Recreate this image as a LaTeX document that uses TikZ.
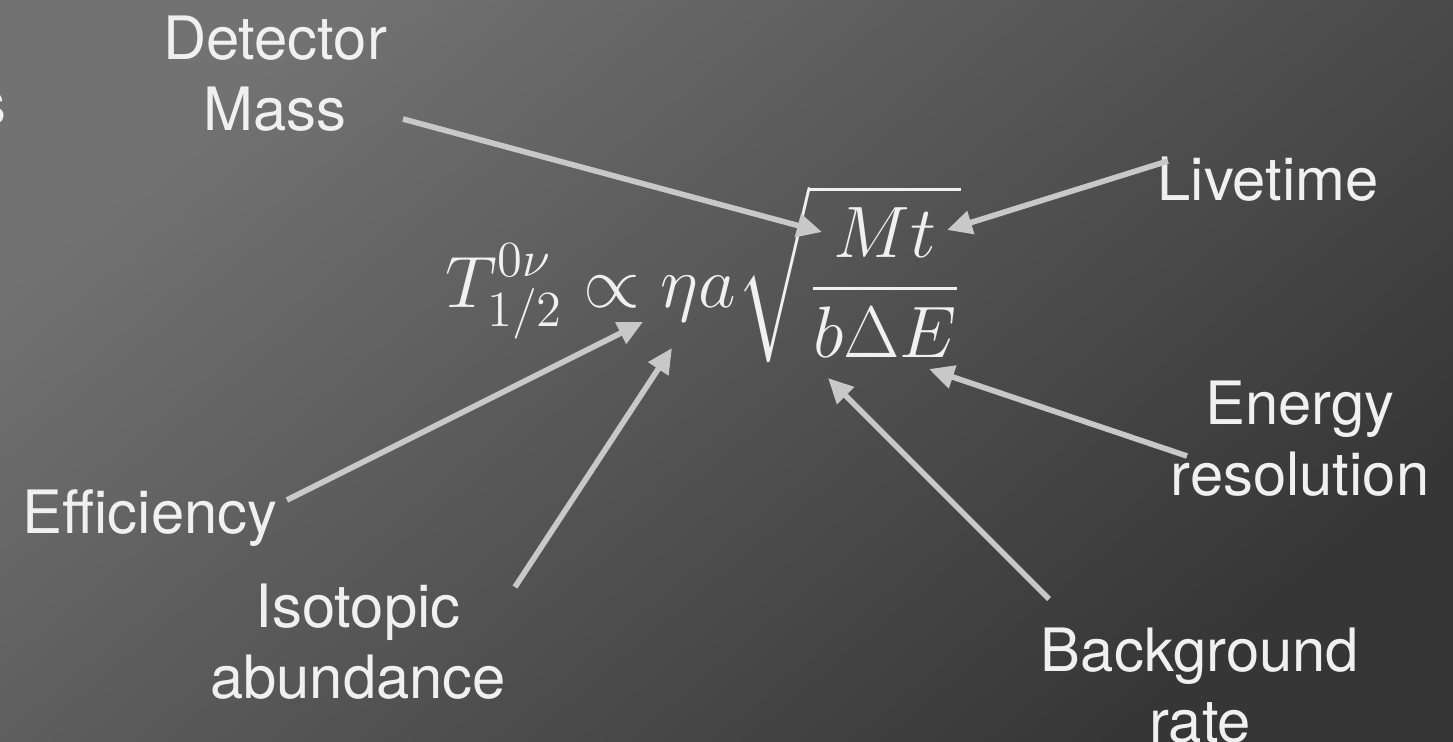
\documentclass[tikz,border=0pt]{standalone}
\usepackage{fontspec}
\usepackage{exscale}
\usepackage{tikz}
\usetikzlibrary{arrows.meta}
\newfontfamily\labelfont{TeX Gyre Heros}
\definecolor{bgtop}{RGB}{114,114,114}
\definecolor{bgbottom}{RGB}{54,54,54}
\definecolor{labeltext}{RGB}{240,240,240}
\definecolor{arrowgray}{RGB}{200,200,200}

\begin{document}
\begin{tikzpicture}[
    x=0.01cm, y=-0.01cm,
    term/.style={text=labeltext, font=\labelfont\fontsize{17}{20.3}\selectfont, align=center, inner sep=0pt},
    formula/.style={text=labeltext, font=\fontsize{20.8}{25}\selectfont, inner sep=0pt},
    pointer/.style={-{Triangle[length=2.5mm, width=2.3mm]}, line width=1.6pt, draw=arrowgray}
]

% Background
\useasboundingbox (0,0) rectangle (1453,741);
\shade[top color=bgtop, bottom color=bgbottom, shading angle=40] (0,0) rectangle (1453,741);

% Formula
\node[formula, anchor=base east] (eq) at (962,307) {$\displaystyle T^{0\nu}_{1/2}\propto\eta a\sqrt{\frac{Mt}{b\Delta E}}$};

% Labels
\node[term, anchor=base east] (cut) at (7,124) {s};
\node[term, anchor=north] (det) at (275,15) {Detector\\Mass};
\node[term, anchor=base] (live) at (1268,200) {Livetime};
\node[term, anchor=north] (energy) at (1300,380) {Energy\\resolution};
\node[term, anchor=base] (eff) at (150,533) {Efficiency};
\node[term, anchor=north] (iso) at (358,583) {Isotopic\\abundance};
\node[term, anchor=north] (bkg) at (1200,627) {Background\\rate};

% Arrow ends
\coordinate (detOut) at (403,119);
\coordinate (liveOut) at (1168,161);
\coordinate (effOut) at (287,500);
\coordinate (isoOut) at (515,587);
\coordinate (bkgOut) at (1049,599);
\coordinate (energyOut) at (1187,456);

\coordinate (atM) at (822,232);
\coordinate (atT) at (947,230);
\coordinate (atEta) at (643,322);
\coordinate (atA) at (672,348);
\coordinate (atB) at (828,378);
\coordinate (atE) at (929,369);

\draw[pointer] (detOut) -- (atM);
\draw[pointer] (liveOut) -- (atT);
\draw[pointer] (effOut) -- (atEta);
\draw[pointer] (isoOut) -- (atA);
\draw[pointer] (bkgOut) -- (atB);
\draw[pointer] (energyOut) -- (atE);

\end{tikzpicture}
\end{document}
